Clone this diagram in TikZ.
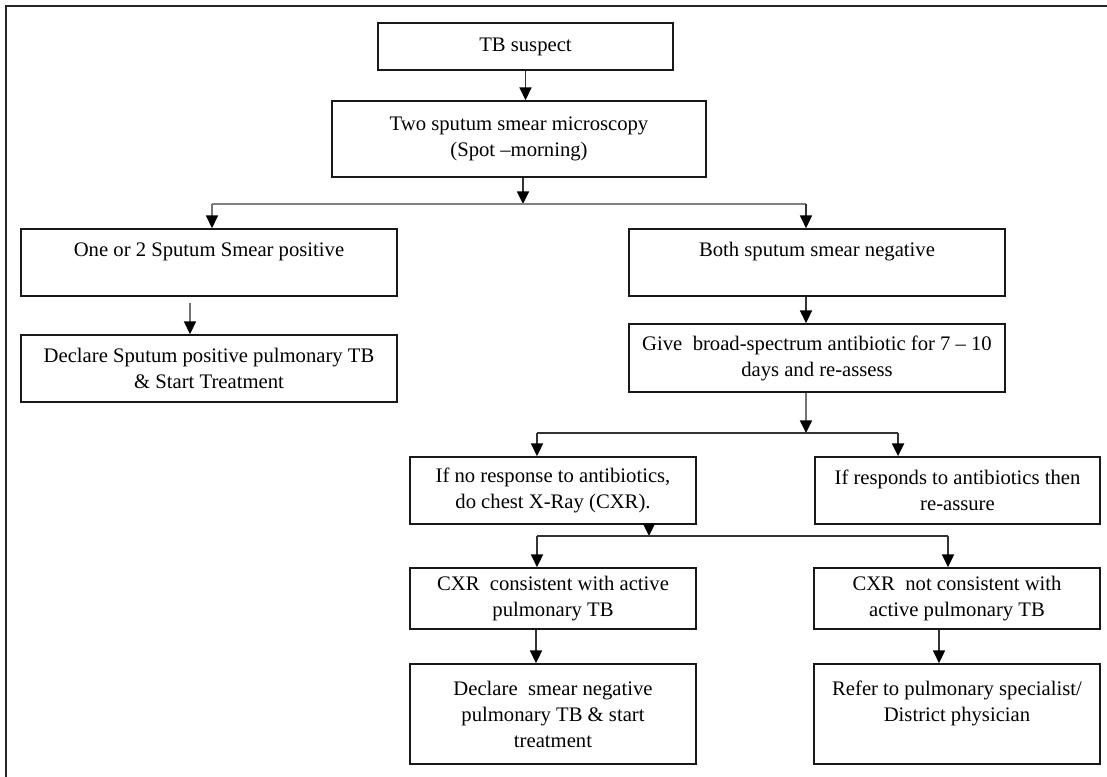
\documentclass[tikz,border=0pt]{standalone}
\usepackage{fontspec}
\setmainfont{Liberation Serif}
\usetikzlibrary{arrows.meta}
\begin{document}
\begin{tikzpicture}[x=0.75pt,y=-0.75pt,
  box/.style={draw=black!90, line width=1.3pt, inner sep=0pt, align=center,
    font=\fontsize{15.5}{19.5}\selectfont},
  link/.style={draw=black!80, line width=1.3pt},
  arr/.style={link, -{Triangle[length=9.5pt,width=9pt,color=black]}},
  grayarr/.style={arr, draw=black!55},
  bar/.style={draw=black!50, line width=1.8pt},
  frame/.style={draw=black!85, line width=2.2pt}
]
\useasboundingbox (0,0) rectangle (1107,777);
% page frame (top and left edges)
\draw[frame] (6,777) -- (6,6) -- (1107,6);

% boxes
\node[box, minimum width=221.25pt, minimum height=35.25pt] (tb) at (525.5,46.5) {TB suspect};
\node[box, minimum width=280.5pt, minimum height=57pt] (two) at (519,139)
  {Two sputum smear microscopy\\(Spot –morning)};
\node[box, minimum width=282pt, minimum height=50.25pt] (one) at (209,262.5)
  {One or 2 Sputum Smear positive\\~};
\node[box, minimum width=282pt, minimum height=50.25pt] (declpos) at (209,368.5)
  {Declare Sputum positive pulmonary TB\\\& Start Treatment};
\node[box, minimum width=282pt, minimum height=50.25pt] (both) at (817,262.5)
  {Both sputum smear negative\\~};
\node[box, minimum width=282pt, minimum height=51pt] (give) at (817,358)
  {Give\ \ broad-spectrum antibiotic for 7 – 10\\days and re-assess};
\node[box, minimum width=214.5pt, minimum height=50.25pt] (ifno) at (553,490.5)
  {If no response to antibiotics,\\do chest X-Ray (CXR).};
\node[box, minimum width=213.75pt, minimum height=50.25pt] (ifresp) at (957.5,490.5)
  {If responds to antibiotics then\\re-assure};
\node[box, minimum width=214.5pt, minimum height=45.75pt] (cxrc) at (553,598.5)
  {CXR\ \ consistent with active\\pulmonary TB};
\node[box, minimum width=214.5pt, minimum height=45.75pt] (cxrn) at (957,598.5)
  {CXR\ \ not consistent with\\active pulmonary TB};
\node[box, minimum width=214.5pt, minimum height=75pt] (declneg) at (553,714)
  {Declare\ \ smear negative\\pulmonary TB \& start\\treatment};
\node[box, minimum width=214.5pt, minimum height=75pt] (refer) at (957,714)
  {Refer to pulmonary specialist/\\District physician\\~};

% junction points
\coordinate (j1) at (523,204);
\coordinate (j2) at (806,433);
\coordinate (j3) at (649,536);

% connectors
\draw[arr] (tb.south) -- (two.north -| tb.south);
\draw[arr] (two.south -| j1) -- (j1);
\draw[bar] ([xshift=2.25pt]one.north |- j1) -- ([xshift=-8.25pt]both.north |- j1);
\draw[grayarr] ([xshift=2.25pt]one.north |- j1) -- ([xshift=2.25pt]one.north);
\draw[arr] ([xshift=-8.25pt]both.north |- j1) -- ([xshift=-8.25pt]both.north);

\draw[grayarr] ([xshift=-14.25pt,yshift=-4.5pt]one.south) -- ([xshift=-14.25pt]declpos.north);

\draw[arr] ([xshift=-8.25pt]both.south) -- ([xshift=-8.25pt]give.north);
\draw[grayarr] ([xshift=-8.25pt]give.south) -- (j2);
\draw[link] ([xshift=-12pt]ifno.north |- j2) -- ([xshift=-44.6pt]ifresp.north |- j2);
\draw[arr] ([xshift=-12pt]ifno.north |- j2) -- ([xshift=-12pt]ifno.north);
\draw[arr] ([xshift=-44.6pt]ifresp.north |- j2) -- ([xshift=-44.6pt]ifresp.north);

\draw[arr] (ifno.south -| j3) -- (j3);
\draw[link] ([xshift=-12pt]cxrc.north |- j3) -- ([xshift=-6.75pt]cxrn.north |- j3);
\draw[arr] ([xshift=-12pt]cxrc.north |- j3) -- ([xshift=-12pt]cxrc.north);
\draw[arr] ([xshift=-6.75pt]cxrn.north |- j3) -- ([xshift=-6.75pt]cxrn.north);

\draw[arr] ([xshift=-12.75pt]cxrc.south) -- ([xshift=-12.75pt]declneg.north);
\draw[arr] ([xshift=-13.5pt]cxrn.south) -- ([xshift=-13.5pt]refer.north);
\end{tikzpicture}
\end{document}
